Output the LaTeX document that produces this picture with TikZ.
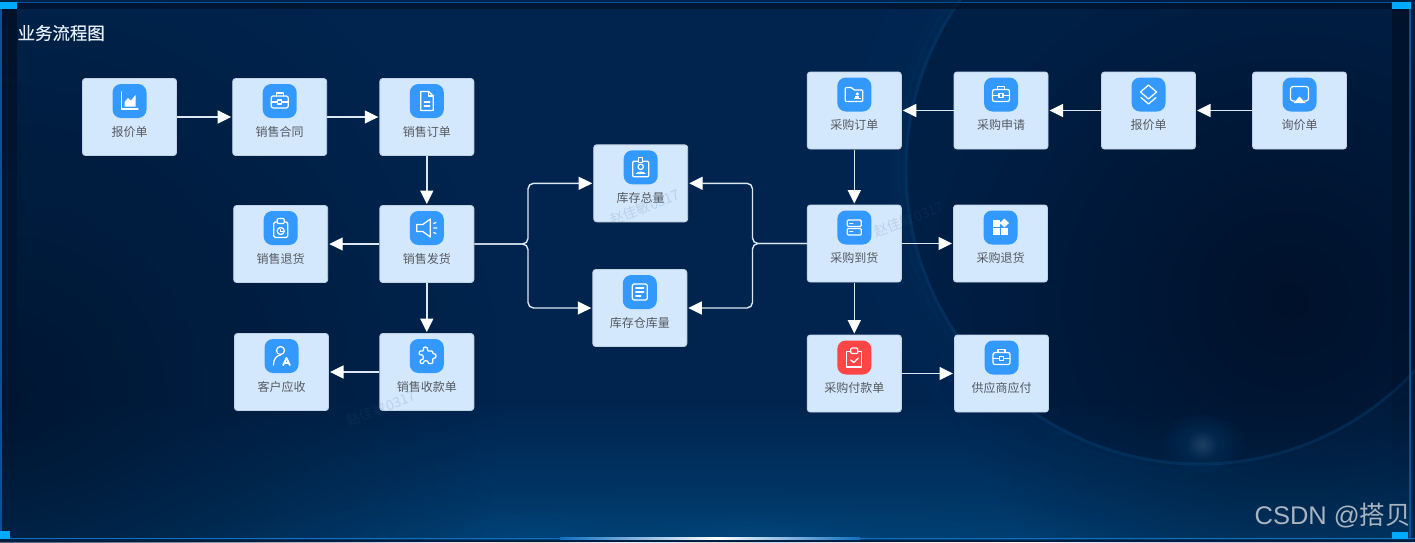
\documentclass[tikz,border=0pt]{standalone}
\usepackage{fontspec}
\setmainfont{Noto Sans CJK SC}
\newfontfamily\latinwm{Liberation Sans}
\newfontfamily\titlefont[FakeBold=0.35]{Noto Sans CJK SC}
\usetikzlibrary{arrows.meta,fadings,calc}
\definecolor{boxfill}{HTML}{D4E8FD}
\definecolor{boxedge}{HTML}{C3D2E2}
\definecolor{iconblue}{HTML}{3399FF}
\definecolor{iconred}{HTML}{FF4545}
\definecolor{labelink}{HTML}{555A60}
\definecolor{linkcol}{HTML}{DCE7F2}
\definecolor{cornercyan}{HTML}{00AAFF}
\definecolor{framecol}{HTML}{0A5296}
\definecolor{footcol}{HTML}{0F6FC0}
\definecolor{titleink}{HTML}{E4EEF8}
\definecolor{glowblue}{HTML}{0A5C9A}
\definecolor{bgbase}{HTML}{00244E}
\definecolor{bgbottom}{HTML}{003E70}
\definecolor{bgleft}{HTML}{001530}
\definecolor{planetdeep}{HTML}{000F26}
\definecolor{bandtop}{HTML}{00122A}
\definecolor{bandside}{HTML}{000F22}
\definecolor{bandfoot}{HTML}{001E42}
\definecolor{markink}{HTML}{A8B4C0}
\definecolor{stampink}{HTML}{2A5A86}
\tikzfading[name=upfade,top color=transparent!100,bottom color=transparent!0]
\tikzfading[name=downfade,top color=transparent!0,bottom color=transparent!100]
\tikzfading[name=softblob,inner color=transparent!0,outer color=transparent!100]
\tikzset{
  x=1pt,y=-1pt,
  flowbox/.style={draw=boxedge,line width=.9pt,fill=boxfill,rounded corners=3pt,minimum width=94pt,minimum height=77pt,inner sep=0pt,outer sep=.5pt},
  iconbg/.style={fill=#1,rounded corners=8.5pt,minimum width=34pt,minimum height=34pt,inner sep=0pt},
  iconbg/.default=iconblue,
  flowlabel/.style={text=labelink,font=\fontsize{12}{12}\selectfont,inner sep=0pt},
  link/.style={draw=linkcol,line width=1.4pt,-{Triangle[length=13.5pt,width=13pt,fill=white,color=white]},shorten >=1pt},
  linkrnd/.style={link,rounded corners=5.5pt},
  ln/.style={draw=white,line width=1.25pt,line join=round,line cap=round,fill=none},
  sld/.style={fill=white,draw=none},
  stamp/.style={text=stampink,opacity=.16,font=\fontsize{14}{14}\selectfont,rotate=21,inner sep=0pt},
  blob/.style={fill=#1,path fading=softblob,draw=none},
  ic chart/.pic={\draw[ln](-8,-9)--(-8,8)--(8.5,8);\fill[sld](-5,5.5)--(-5,1)--(-1.5,-3)--(1.5,-.5)--(6,-6)--(6,5.5)--cycle;},
  ic case/.pic={\draw[ln,rounded corners=2pt](-8.5,-5)rectangle(8.5,7);\draw[ln](-3.5,-5)--(-3.5,-8)--(3.5,-8)--(3.5,-5);\draw[ln](-8.5,1)--(-2.5,1)(2.5,1)--(8.5,1);\draw[ln](-2,-1)rectangle(2,3);},
  ic doc/.pic={\draw[ln](-6,-9.5)--(2,-9.5)--(6.5,-5)--(6.5,9.5)--(-6,9.5)--cycle;\draw[ln](2,-9.5)--(2,-5)--(6.5,-5);\draw[ln](-2.5,1)--(3,1)(-2.5,5)--(3,5);},
  ic clock/.pic={\draw[ln,rounded corners=1.5pt](-7,-6)rectangle(7,9.5);\draw[ln,fill=iconblue,rounded corners=1pt](-3.5,-9.5)rectangle(3.5,-4.5);\draw[ln](0,3)circle(3.5);\draw[line width=.9pt,white](0,1.2)--(0,3)--(1.8,3);},
  ic speaker/.pic={\draw[ln](-10,-3.5)--(-4,-3.5)--(3.5,-9)--(3.5,9)--(-4,3.5)--(-10,3.5)--cycle;\draw[ln](7,-4.5)--(9,-5.5)(7,0)--(10,0)(7,4.5)--(9,5.5);},
  ic person/.pic={\draw[ln](-1,-5.5)circle(4);\draw[ln](-8,9)..controls(-8,3)and(-5,-.5)..(-1,-1);\draw[line width=1.8pt,white,line join=round](1.5,9.5)--(5,2)--(8.5,9.5);\draw[line width=1.3pt,white](3.5,7)--(6.5,7);},
  ic puzzle/.pic={\draw[ln,rounded corners=1pt](-7.5,-5)--(-3,-5)..controls(-5,-10)and(2,-10)..(0.5,-5)--(6,-5)--(6,-2)..controls(10,-3)and(10,3)..(6,2)--(6,7.5)--(1,7.5)..controls(2,4)and(-4,4)..(-3,7.5)--(-6.5,7.5)--(-6.5,3.5)..controls(-2.5,4.5)and(-2.5,-2.5)..(-7.5,-1)--cycle;},
  ic folder/.pic={\draw[ln,rounded corners=1pt](-9,-7)--(-2.5,-7)--(-.5,-4.5)--(8.5,-4.5)--(8.5,7)--(-9,7)--cycle;\fill[sld](3,-.5)circle(1.7);\fill[sld](-.5,4.5)rectangle(6.5,3);\fill[sld](1,3.2)rectangle(5,1.8);},
  ic layers/.pic={\draw[ln](0,-9.5)--(8,-2.5)--(0,4.5)--(-8,-2.5)--cycle;\draw[ln](-7.5,3)--(0,9.5)--(7.5,3);},
  ic screen/.pic={\draw[ln,rounded corners=2.5pt](-5,6.5)--(-9,6.5)--(-9,-8)--(9,-8)--(9,6.5)--(5,6.5);\fill[sld](0,2)--(-6,8.5)--(6,8.5)--cycle;},
  ic badge/.pic={\draw[ln,rounded corners=1pt](-8,-6)rectangle(8,9.5);\draw[ln,fill=iconblue](-2,-9.5)rectangle(2,-5);\draw[ln](0,-.5)circle(2.7);\fill[sld](-5,6.5)..controls(-4,3.5)and(4,3.5)..(5,6.5)--cycle;},
  ic form/.pic={\draw[ln,rounded corners=2pt](-7.5,-8)rectangle(7.5,8);\draw[ln](-4,-4)--(4,-4)(-4,0)--(4,0)(-4,4)--(1,4);},
  ic server/.pic={\draw[ln,rounded corners=1pt](-7,-7.5)rectangle(7,-1);\draw[ln,rounded corners=1pt](-7,1)rectangle(7,7.5);\draw[ln](-4.5,-4.2)--(-1.5,-4.2)(-4.5,4.2)--(-1.5,4.2);},
  ic grid/.pic={\fill[sld](-7.5,-7.5)rectangle(-1,-.8);\fill[sld](-7.5,.5)rectangle(-1,7.5);\fill[sld](.2,.5)rectangle(7,7.5);\fill[sld](3.8,-9)--(8.5,-4.5)--(3.8,0)--(-.8,-4.5)--cycle;},
  ic check/.pic={\draw[ln](-3.5,-6)--(-7.5,-6)--(-7.5,9.5)--(7.5,9.5)--(7.5,-6)--(3.5,-6);\draw[ln,rounded corners=1pt](-3.5,-9.5)rectangle(3.5,-4);\draw[ln](-3.5,2.5)--(-.7,5)--(4,0.5);},
}
\newcommand{\flownode}[6][iconblue]{%
  \node[flowbox] (#2) at (#3,#4) {};
  \node[iconbg=#1] (#2i) at ($(#2.north)+(0,23)$) {};
  \pic at (#2i) {ic #5};
  \node[flowlabel] (#2t) at ($(#2.north)+(0,53.8)$) {#6};
}
\begin{document}
\begin{tikzpicture}
\useasboundingbox (0,0) rectangle (1415,542);
% ---- background
\begin{scope}
\clip (0,0) rectangle (1415,542);
\fill[bgbase] (0,0) rectangle (1415,542);
\fill[bgbottom,path fading=upfade] (0,400) rectangle (1415,542);
\fill[blob=bgleft,opacity=.9] (-500,-100) rectangle (500,900);
% planet rim and body
\foreach \r/\o in {345/.03,335/.03,325/.03,315/.04,305/.05,298/.06}{
  \draw[glowblue,line width=10pt,opacity=\o] (1200,170) circle (\r);
}
\fill[planetdeep,opacity=.22] (1200,170) circle (295);
\fill[blob=planetdeep,opacity=.85] (930,-40) rectangle (1650,640);
\draw[glowblue,line width=3pt,opacity=.25] (1200,170) circle (294);
\fill[blob=glowblue,opacity=.3] (1160,410) rectangle (1245,475);
\fill[blob=gray,opacity=.22] (1186,430) rectangle (1218,460);
% clouds
\fill[blob=glowblue,opacity=.15] (150,480) rectangle (1250,620);
\fill[blob=glowblue,opacity=.14] (440,505) rectangle (620,570);
\fill[blob=glowblue,opacity=.16] (620,510) rectangle (900,565);
\end{scope}
% ---- frame
\fill[bandtop,opacity=.75] (2,3) rectangle (1410,9);
\fill[bandside,opacity=.8,path fading=downfade] (2,9) rectangle (17,500);
\fill[bandside,opacity=.7,path fading=downfade] (1392,9) rectangle (1409,500);
\fill[bandfoot] (0,540) rectangle (1415,542);
\draw[framecol,line width=1.4pt] (1,2.5) -- (1410,2.5) -- (1410,538.5);
\draw[framecol,line width=1.4pt] (1,2.5) -- (1,538.5);
\fill[footcol] (0,537.8) rectangle (1415,539.4);
\shade[left color=footcol,right color=white,draw=none] (560,537.8) rectangle (717,539.4);
\shade[left color=white,right color=footcol,draw=none] (717,537.8) rectangle (860,539.4);
\fill[cornercyan] (0,2) rectangle (17,9);
\fill[cornercyan] (1392,2) rectangle (1411,9);
\fill[cornercyan] (0,531) rectangle (10,539);
\fill[cornercyan] (1392,532) rectangle (1408,539);
% ---- nodes
\node[text=titleink,font=\titlefont\fontsize{17.4}{17.4}\selectfont,inner sep=0pt,anchor=west] (title) at (17.5,33) {业务流程图};
\flownode{a}{129.5}{117}{chart}{报价单}
\flownode{b}{279.7}{117}{case}{销售合同}
\flownode{c}{426.8}{117}{doc}{销售订单}
\flownode{d}{426.8}{244}{speaker}{销售发货}
\flownode{e}{280.7}{244}{clock}{销售退货}
\flownode{f}{426.8}{372}{puzzle}{销售收款单}
\flownode{g}{281.5}{372}{person}{客户应收}
\flownode{h}{640.7}{183.3}{badge}{库存总量}
\flownode{i}{639.8}{308}{form}{库存仓库量}
\flownode{j}{854.3}{110.5}{folder}{采购订单}
\flownode{k}{1001}{110.5}{case}{采购申请}
\flownode{l}{1148.5}{110.5}{layers}{报价单}
\flownode{m}{1299.5}{110.5}{screen}{询价单}
\flownode{n}{854.3}{243.5}{server}{采购到货}
\flownode{o}{1000.5}{243.5}{grid}{采购退货}
\flownode[iconred]{p}{854.3}{373.5}{check}{采购付款单}
\flownode{q}{1001.5}{373.5}{case}{供应商应付}
% ---- connectors
\coordinate (busL) at (528,244);
\coordinate (busR) at (752.5,243.5);
\draw[link] (a) -- (b);
\draw[link] (b) -- (c);
\draw[link] (c) -- (d);
\draw[link] (d) -- (e);
\draw[link] (d) -- (f);
\draw[link] (f) -- (g);
\draw[link] (m) -- (l);
\draw[link] (l) -- (k);
\draw[link] (k) -- (j);
\draw[link] (j) -- (n);
\draw[link] (n) -- (o);
\draw[link] (n) -- (p);
\draw[link] (p) -- (q);
\draw[linkrnd] (d.east) -- (busL) |- (h.west);
\draw[linkrnd] (d.east) -- (busL) |- (i.west);
\draw[linkrnd] (n.west) -- (busR) |- (h.east);
\draw[linkrnd] (n.west) -- (busR) |- (i.east);
% ---- faint stamps and corner mark
\node[stamp] (s1) at (645,207) {赵佳敏0317};
\node[stamp] (s2) at (381,408) {赵佳敏0317};
\node[stamp] (s3) at (909,219) {赵佳敏0317};
\node[anchor=east,inner sep=0pt,text=markink,font=\fontsize{25.5}{25.5}\selectfont] (csdn) at (1411,516) {{\latinwm CSDN @}搭贝};
\end{tikzpicture}
\end{document}
